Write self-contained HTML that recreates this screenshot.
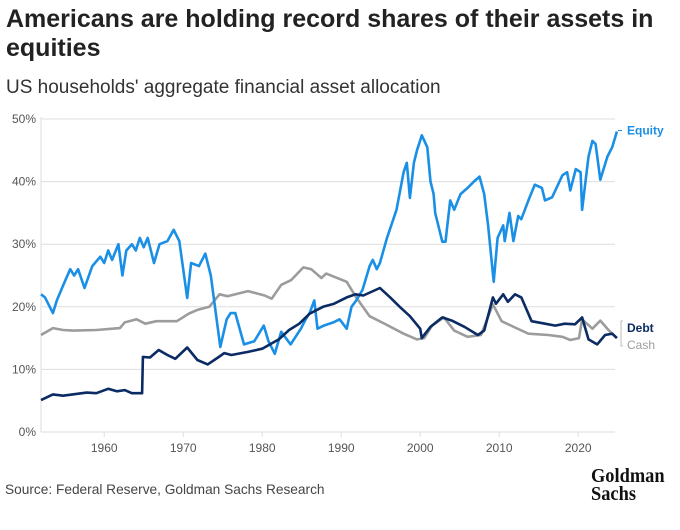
<!DOCTYPE html>
<html><head><meta charset="utf-8">
<style>
body{margin:0;background:#fff;font-family:"Liberation Sans",sans-serif;}
#wrap{position:relative;width:680px;height:530px;overflow:hidden;}
.title{position:absolute;left:6px;top:5px;width:672px;font-size:25px;font-weight:bold;color:#222;line-height:29px;}
.sub{position:absolute;left:6px;top:77px;font-size:19px;color:#333;}
.src{position:absolute;left:5px;top:482px;font-size:13.7px;color:#444;}
.logo{position:absolute;left:591px;top:467px;font-family:"Liberation Serif",serif;font-weight:bold;font-size:20px;line-height:18px;color:#111;transform:scaleX(0.92);transform-origin:left top;}
</style></head><body>
<div id="wrap">
<div class="title">Americans are holding record shares of their assets in equities</div>
<div class="sub">US households' aggregate financial asset allocation</div>
<svg id="chart" width="680" height="530" style="position:absolute;left:0;top:0"></svg>
<div class="src">Source: Federal Reserve, Goldman Sachs Research</div>
<div class="logo">Goldman<br>Sachs</div>
</div>
<script>
const yTicks=[0,10,20,30,40,50];
const xTicks=[1960,1970,1980,1990,2000,2010,2020];
const equityYears=[1952,1952.5,1953.5,1954,1955,1955.7,1956.2,1956.7,1957.5,1958.5,1959.5,1960,1960.5,1961,1961.8,1962.3,1962.8,1963.5,1964,1964.5,1965,1965.5,1966.3,1967,1968,1968.8,1969.5,1970.5,1971,1972,1972.8,1973.5,1974.7,1975.5,1976,1976.6,1977.7,1979,1980.2,1980.8,1981.6,1982.4,1983.6,1984.9,1985.5,1986,1986.6,1987,1987.8,1989,1989.8,1990.7,1991.3,1991.9,1992.7,1993.6,1994,1994.5,1994.9,1995.8,1997,1997.9,1998.3,1998.7,1999.2,1999.6,2000.2,2000.9,2001.3,2001.7,2001.9,2002.8,2003.2,2003.8,2004.3,2005.1,2006,2006.8,2007.5,2008.1,2008.6,2009.3,2009.8,2010.5,2010.7,2011.3,2011.8,2012.4,2012.8,2013.7,2014.5,2015.4,2015.8,2016.7,2018,2018.6,2019,2019.7,2020.3,2020.5,2021.3,2021.8,2022.2,2022.8,2023.7,2024.3,2024.9];
const equityValues=[22,21.5,19,21,24,26,25,26,23,26.5,28,27,29,27.5,30,25,29,30,29,31,29.5,31,27,30,30.5,32.3,30.5,21.4,27,26.5,28.5,25,13.6,18,19,19,14,14.5,17,14.5,12.5,16,14,16.5,18,19,21,16.5,17,17.5,18,16.5,20,21,22.7,26.5,27.5,26,27,31,35.5,41.5,43,37.4,43,45,47.4,45.5,40,38,35,30.4,30.4,37,35.5,38,39,40,40.8,38,33,24,31,33,30.5,35,30.5,34.5,34,37,39.5,39,37,37.5,41,41.5,38.6,42,41.5,35.5,44,46.5,46,40.3,44,45.5,48];
const debtYears=[1952,1953.5,1954.8,1957.8,1959,1960.5,1961.6,1962.6,1963.5,1964.8,1964.9,1965.8,1966.9,1968,1969,1970.5,1971.8,1973.1,1974.4,1975.2,1976.1,1978.2,1980,1982.1,1983.4,1984.7,1986,1987.7,1989.1,1990.7,1991.8,1992.8,1994.9,1996.2,1997.4,1998.7,2000,2000.2,2001.3,2002.8,2004,2005.6,2007.3,2008.1,2009.2,2009.6,2010.5,2011.1,2012,2012.8,2014.1,2015.8,2017.1,2018.3,2019.6,2020.5,2021.3,2022.4,2023.4,2024.3,2024.9];
const debtValues=[5.1,6,5.8,6.3,6.2,6.9,6.5,6.7,6.2,6.2,12,11.9,13.1,12.3,11.7,13.5,11.5,10.8,11.9,12.6,12.3,12.8,13.3,14.8,16.3,17.3,18.9,20,20.5,21.5,22,21.8,23,21.5,20,18.5,16.5,15,16.8,18.3,17.8,16.8,15.5,16.2,21.5,20.5,22,20.8,22,21.5,17.7,17.3,17,17.3,17.2,18.3,14.8,14,15.5,15.7,15];
const cashYears=[1952,1953.5,1954.8,1956.1,1959,1962,1962.6,1964.1,1965.2,1966.6,1969.2,1970.7,1971.8,1973.3,1974.6,1975.6,1978.2,1980.3,1981.2,1982.4,1983.7,1985.2,1986.2,1987.5,1988.1,1990.7,1991.9,1993.6,1995.8,1997.9,1999.6,2000.5,2001.5,2003,2004.3,2006,2007.7,2009.2,2010.3,2012,2013.7,2016.2,2018,2019,2020.1,2020.5,2021.8,2022.8,2023.9,2024.9];
const cashValues=[15.5,16.6,16.3,16.2,16.3,16.6,17.5,18,17.3,17.7,17.7,18.9,19.5,20,22,21.7,22.5,21.8,21.3,23.5,24.3,26.3,26,24.6,25.3,24,21.5,18.5,17.1,15.7,14.8,15,17,18.3,16.2,15.2,15.5,20.4,17.7,16.7,15.7,15.5,15.2,14.7,15,18,16.5,17.8,16.2,15];

const NS="http://www.w3.org/2000/svg";
const svg=document.getElementById('chart');
const X0=41,X1=615,Y0=432,Y1=119;
const xs=y=>X0+(y-1952)*7.9;
const ys=v=>Y0-(v/50)*(Y0-Y1);
function mk(t,a){const e=document.createElementNS(NS,t);for(const k in a)e.setAttribute(k,a[k]);svg.appendChild(e);return e;}
yTicks.forEach(t=>{
  const l=mk('line',{x1:X0,x2:X1,y1:ys(t),y2:ys(t),stroke:'#dedede','stroke-width':1});
  
  
  const tx=mk('text',{x:36,y:ys(t)+4,'text-anchor':'end','font-size':12,fill:'#555','font-family':'Liberation Sans, sans-serif'});
  tx.textContent=t+'%';
  
  
});
const ax=mk('line',{x1:X0,x2:X0,y1:Y1-2,y2:Y0,stroke:'#dedede','stroke-width':1});


xTicks.forEach(t=>{
  const tk=mk('line',{x1:xs(t),x2:xs(t),y1:Y0,y2:Y0+5,stroke:'#dedede'});
  
  
  const tx=mk('text',{x:xs(t),y:Y0+20,'text-anchor':'middle','font-size':12,fill:'#555','font-family':'Liberation Sans, sans-serif'});
  tx.textContent=t;
  
  
});
function line(yrs,vals,col,name){
  const d=yrs.map((y,i)=>(i?'L':'M')+xs(y).toFixed(1)+','+ys(vals[i]).toFixed(1)).join('');
  const p=mk('path',{d:d,fill:'none',stroke:col,'stroke-width':2.6,'stroke-linejoin':'round'});
  
  
}
line(cashYears,cashValues,'#9c9c9c','cash-line');
line(equityYears,equityValues,'#1a8fe6','equity-line');
line(debtYears,debtValues,'#0a2b63','debt-line');
function lab(txt,x,y,col,name){
  const t=mk('text',{x:x,y:y,'font-size':12,'font-weight':'bold',fill:col,'font-family':'Liberation Sans, sans-serif'});
  t.textContent=txt;
  
  
}
const ey=ys(equityValues[equityValues.length-1]);
mk('line',{x1:618,x2:622,y1:ey-1,y2:ey-1,stroke:'#1a8fe6'});
lab('Equity',627,ey+3,'#1a8fe6','equity-label');
mk('path',{d:'M623,321 L621,321 L621,346 L623,346',fill:'none',stroke:'#bbb'});
lab('Debt',627,332,'#0a2b63','debt-label');
const c=mk('text',{x:627,y:349,'font-size':12,fill:'#9c9c9c','font-family':'Liberation Sans, sans-serif'});
c.textContent='Cash';


</script>
</body></html>
